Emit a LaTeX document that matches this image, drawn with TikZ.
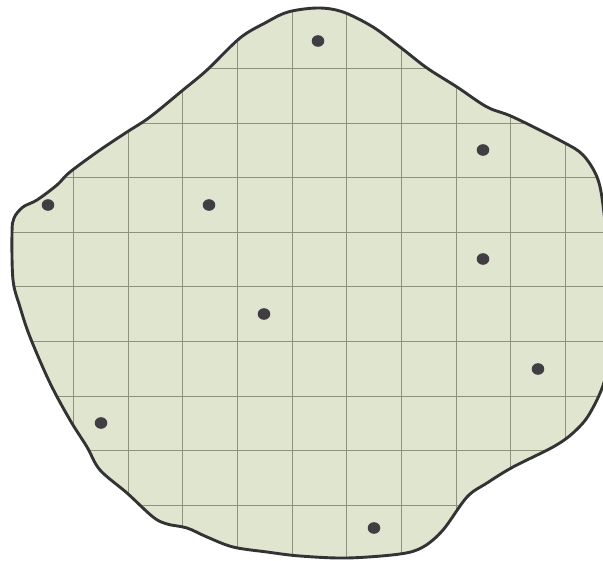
\documentclass[tikz,border=0pt]{standalone}
\definecolor{blobfill}{HTML}{DFE5CF}
\definecolor{gridc}{HTML}{8C927C}
\definecolor{outl}{HTML}{333333}
\definecolor{dotc}{HTML}{403E43}
\tikzset{
  gridline/.style={gridc, line width=0.9pt},
  outline/.style={outl, line width=2.9pt, line join=round},
  pointdot/.style={dotc, fill=dotc}
}
\begin{document}
\begin{tikzpicture}[x=1pt,y=-1pt]
\useasboundingbox (0,0) rectangle (603,561);
\clip (0,0) rectangle (603,561);
\def\blobpath{plot[smooth cycle, tension=0.55] coordinates {
(318,8) (343,12) (373,27) (400,47) (427,68) (457,87) (487,107) (513,117) (563,142) (583,155) (597,177) (603,205) (608,260) (609,320) (606,375) (590,413) (573,433) (553,447) (513,467) (487,483) (467,497) (443,530) (423,547) (400,554) (347,558) (300,556) (267,552) (233,547) (207,537) (187,528) (167,524) (153,517) (127,493) (100,470) (87,447) (70,420) (50,383) (30,337) (20,307) (13,280) (12,233) (14,218) (23,207) (37,200) (57,185) (70,172) (100,150) (127,132) (150,117) (183,90) (207,70) (240,38) (265,23) (288,12)}}
\fill[blobfill] \blobpath;
\begin{scope}
  \clip \blobpath;
  \foreach \gx in {73,128,182,237,292,346,401,456,510,565}
    \draw[gridline] (\gx,0) -- (\gx,561);
  \foreach \gy in {68,123,177,232,286,341,396,450,505}
    \draw[gridline] (0,\gy) -- (603,\gy);
\end{scope}
\draw[outline] \blobpath;
\foreach \px/\py in {318/41, 483/150, 48/205, 209/205, 483/259, 264/314, 538/369, 101/423, 374/528}
  \fill[pointdot] (\px,\py) ellipse [x radius=6.3pt, y radius=5.8pt];
\end{tikzpicture}
\end{document}
